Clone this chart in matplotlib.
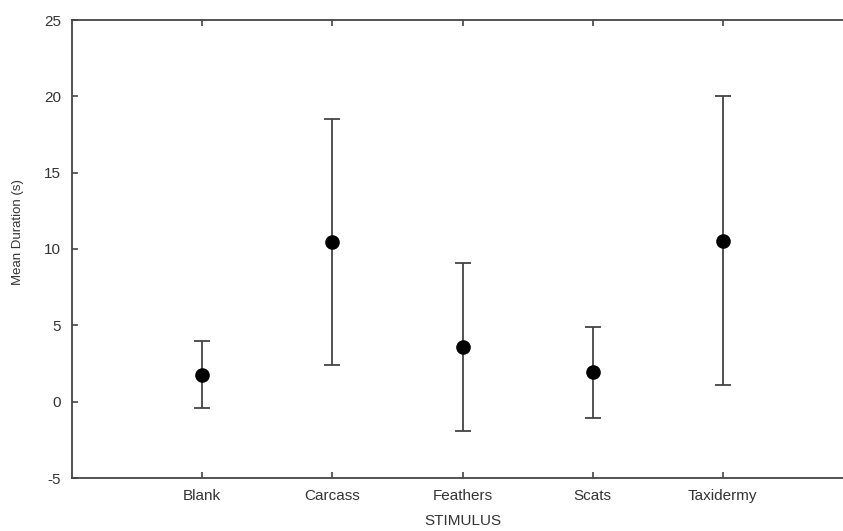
import matplotlib
matplotlib.use("agg")
import matplotlib.pyplot as plt

# data
stimulus = ["Blank", "Carcass", "Feathers", "Scats", "Taxidermy"]
mean_duration = [1.75, 10.48, 3.60, 1.95, 10.55]
err_upper = [3.97, 18.52, 9.10, 4.87, 20.02]
err_lower = [-0.43, 2.40, -1.92, -1.09, 1.09]

plt.rcParams.update({
    "font.family": ["Liberation Sans", "DejaVu Sans"],
    "axes.unicode_minus": False,
    "xtick.labelsize": 11,
    "ytick.labelsize": 11,
})

fig = plt.figure(figsize=(8.43, 5.31), dpi=100, facecolor="w")
ax = fig.add_axes([72 / 843, 53 / 531, 781 / 843, 458 / 531])

xpos = list(range(1, len(stimulus) + 1))
yerr = [[m - lo for m, lo in zip(mean_duration, err_lower)],
        [hi - m for m, hi in zip(mean_duration, err_upper)]]

ax.errorbar(xpos, mean_duration, yerr=yerr, fmt="o", color="black",
            markersize=9.5, ecolor="#444444", elinewidth=1.3,
            capsize=5.6, capthick=1.3, zorder=3)

ax.set_xlim(0, 6)
ax.set_ylim(-5, 25)
ax.set_yticks([-5, 0, 5, 10, 15, 20, 25])
ax.set_xticks(xpos)
ax.set_xticklabels(stimulus)

for side in ["left", "bottom", "top", "right"]:
    ax.spines[side].set_color("#444444")
    ax.spines[side].set_linewidth(1.3)

ax.tick_params(axis="both", direction="in", length=4, width=1.2,
               color="#444444", labelcolor="#333333")
ax.tick_params(axis="x", top=True, pad=8)
ax.tick_params(axis="y", pad=8)

# the y label is narrow and sits a little above the middle in the reference
ax.set_xlabel("STIMULUS", fontsize=11, color="#333333", labelpad=8)
ax.set_ylabel("Mean Duration (s)", fontsize=9.5, color="#333333")
ax.yaxis.set_label_coords(-0.069, 0.537)
ax.yaxis.label.set_va("center")

fig.savefig("out.png", dpi=100)
